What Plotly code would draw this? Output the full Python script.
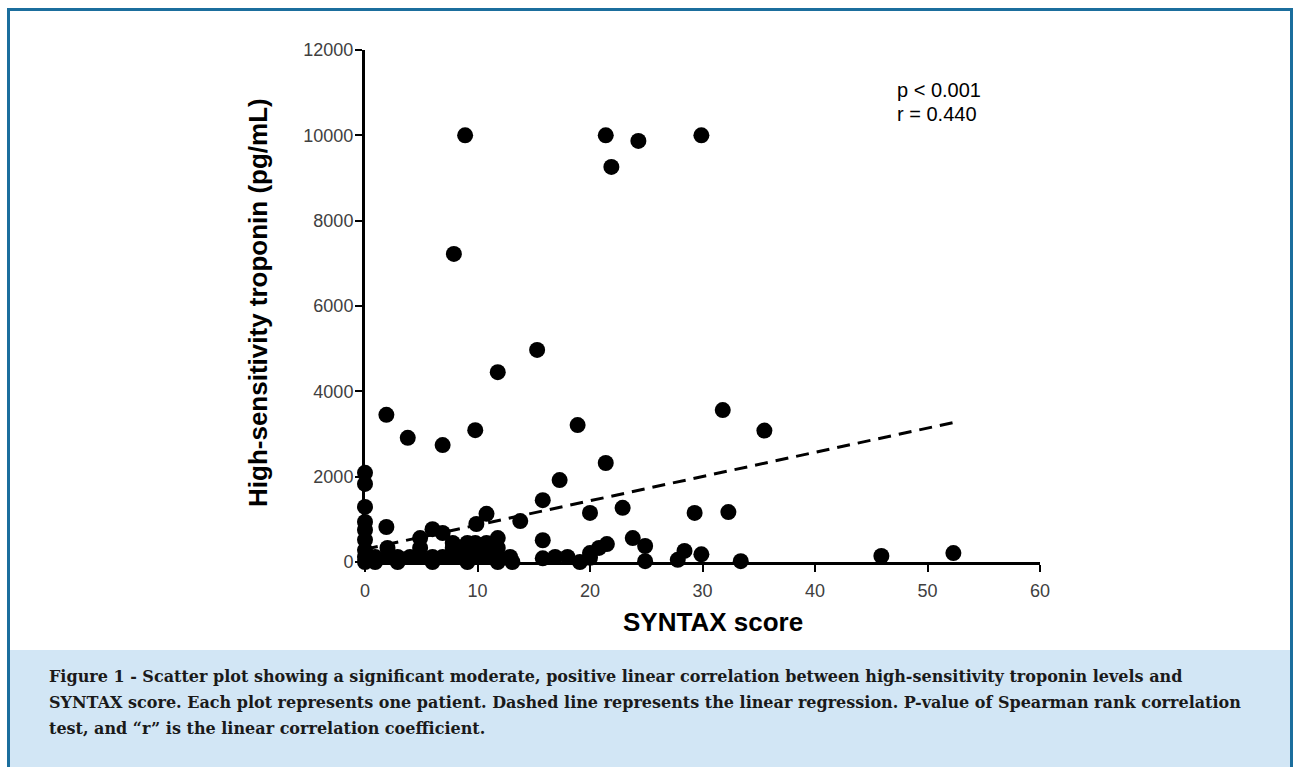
import plotly.graph_objects as go

# SYNTAX score (x) and high-sensitivity troponin in pg/mL (y), one entry per patient
syntax_score = [
    # patients with SYNTAX score 0
    0, 0, 0, 0, 0, 0, 0, 0, 0,
    # scattered values
    8.9, 21.4, 24.3, 21.9, 29.9, 7.9, 15.3, 11.8, 1.9, 3.8, 6.9, 9.8, 18.9,
    31.8, 35.5, 21.4, 17.3, 15.8, 13.8, 20.0, 22.9, 29.3, 32.3, 10.8, 9.9,
    1.9, 6.0, 6.9, 4.9, 23.8, 24.9, 45.9, 52.3, 33.4, 28.4, 27.8, 29.9,
    # low troponin cluster
    0.9, 2.0, 2.9, 4.0, 4.9, 6.0, 6.9, 7.8, 8.7, 9.8, 10.8, 11.8, 12.9,
    2.0, 4.9, 7.8, 9.1, 10.0, 10.8, 11.8,
    7.8, 9.1, 9.8, 10.8, 11.8,
    0.9, 2.9, 6.0, 9.1, 11.8, 13.1,
    15.8, 15.8, 16.9, 18.0, 19.1, 20.0, 20.8, 21.5, 20.0, 24.9,
]
troponin = [
    2090, 1830, 1290, 940, 750, 520, 280, 120, 0,
    10000, 10000, 9870, 9260, 10000, 7220, 4970, 4450, 3450, 2910, 2740, 3090, 3210,
    3560, 3080, 2320, 1920, 1450, 960, 1150, 1270, 1150, 1170, 1130, 890,
    820, 770, 680, 560, 560, 375, 140, 210, 20, 260, 50, 180,
    117, 117, 117, 117, 117, 117, 117, 117, 117, 117, 117, 117, 117,
    330, 330, 330, 330, 330, 330, 330,
    445, 445, 445, 445, 560,
    0, 0, 0, 0, 0, 0,
    510, 85, 117, 117, 0, 210, 330, 420, 100, 20,
]

# Linear regression line end points
regression_x = [0, 52.5]
regression_y = [300, 3280]

x_ticks = [0, 10, 20, 30, 40, 50, 60]
x_tick_labels = ["0", "10", "20", "30", "40", "50", "60"]
y_ticks = [0, 2000, 4000, 6000, 8000, 10000, 12000]
y_tick_labels = ["0", "2000", "4000", "6000", "8000", "10000", "12000"]

stats_lines = ["p < 0.001", "r = 0.440"]
caption_lines = [
    "Figure 1 - Scatter plot showing a significant moderate, positive linear correlation between high-sensitivity troponin levels and",
    "SYNTAX score. Each plot represents one patient. Dashed line represents the linear regression. P-value of Spearman rank correlation",
    "test, and \u201cr\u201d is the linear correlation coefficient.",
]

W, H = 1296, 767
PLOT_L, PLOT_R, PLOT_T, PLOT_B = 365, 1040, 50, 562


def px_x(px):
    return (px - PLOT_L) / (PLOT_R - PLOT_L)


def px_y(py):
    return (PLOT_B - py) / (PLOT_B - PLOT_T)


SANS = "Liberation Sans, Arial, sans-serif"
SERIF = "DejaVu Serif, serif"

fig = go.Figure()

fig.add_trace(go.Scatter(
    x=regression_x, y=regression_y, mode="lines",
    line=dict(color="black", width=3, dash="13px,8px"),
    hoverinfo="skip", showlegend=False,
))
fig.add_trace(go.Scatter(
    x=syntax_score, y=troponin, mode="markers",
    marker=dict(color="black", size=16, line=dict(width=0)),
    cliponaxis=False, showlegend=False,
))

annotations = [
    dict(text="<b>High-sensitivity troponin (pg/mL)</b>", textangle=-90,
         x=px_x(258), y=px_y(303), xanchor="center", yanchor="middle",
         font=dict(family=SANS, size=26, color="black")),
    dict(text="<b>SYNTAX score</b>",
         x=px_x(713), y=px_y(622), xanchor="center", yanchor="middle",
         font=dict(family=SANS, size=26, color="black")),
]
for i, line in enumerate(stats_lines):
    annotations.append(dict(
        text=line, x=px_x(895), y=px_y(90 + 24 * i), xanchor="left", yanchor="middle",
        font=dict(family=SANS, size=20, color="black")))
for i, line in enumerate(caption_lines):
    annotations.append(dict(
        text="<b>" + line + "</b>", x=px_x(47), y=px_y(676 + 26 * i),
        xanchor="left", yanchor="middle",
        font=dict(family=SERIF, size=16, color="#1a1a1a")))
for a in annotations:
    a.update(xref="paper", yref="paper", showarrow=False)

shapes = [
    # caption panel
    dict(type="rect", xref="paper", yref="paper", layer="below",
         x0=px_x(9), x1=px_x(1290), y0=px_y(650), y1=px_y(770),
         fillcolor="#d2e6f5", line=dict(width=0)),
    # frame
    dict(type="rect", xref="paper", yref="paper", layer="above",
         x0=px_x(8.5), x1=px_x(1291.5), y0=px_y(9.5), y1=px_y(780),
         fillcolor="rgba(0,0,0,0)", line=dict(color="#1b6e9d", width=3)),
]

axis_common = dict(
    showline=True, linecolor="black", linewidth=3,
    ticks="outside", ticklen=7, tickwidth=2, tickcolor="black",
    showgrid=False, zeroline=False,
    tickfont=dict(family=SANS, size=18, color="#404040"),
)

fig.update_layout(
    width=W, height=H, autosize=False,
    margin=dict(l=PLOT_L, r=W - PLOT_R, t=PLOT_T, b=H - PLOT_B, pad=0),
    paper_bgcolor="white", plot_bgcolor="white",
    annotations=annotations, shapes=shapes,
    xaxis=dict(range=[0, 60], tickvals=x_ticks, ticktext=x_tick_labels,
               ticklabelstandoff=3, **axis_common),
    yaxis=dict(range=[0, 12000], tickvals=y_ticks, ticktext=y_tick_labels,
               ticklabelstandoff=-2, **axis_common),
)

fig.write_html("out.html")
